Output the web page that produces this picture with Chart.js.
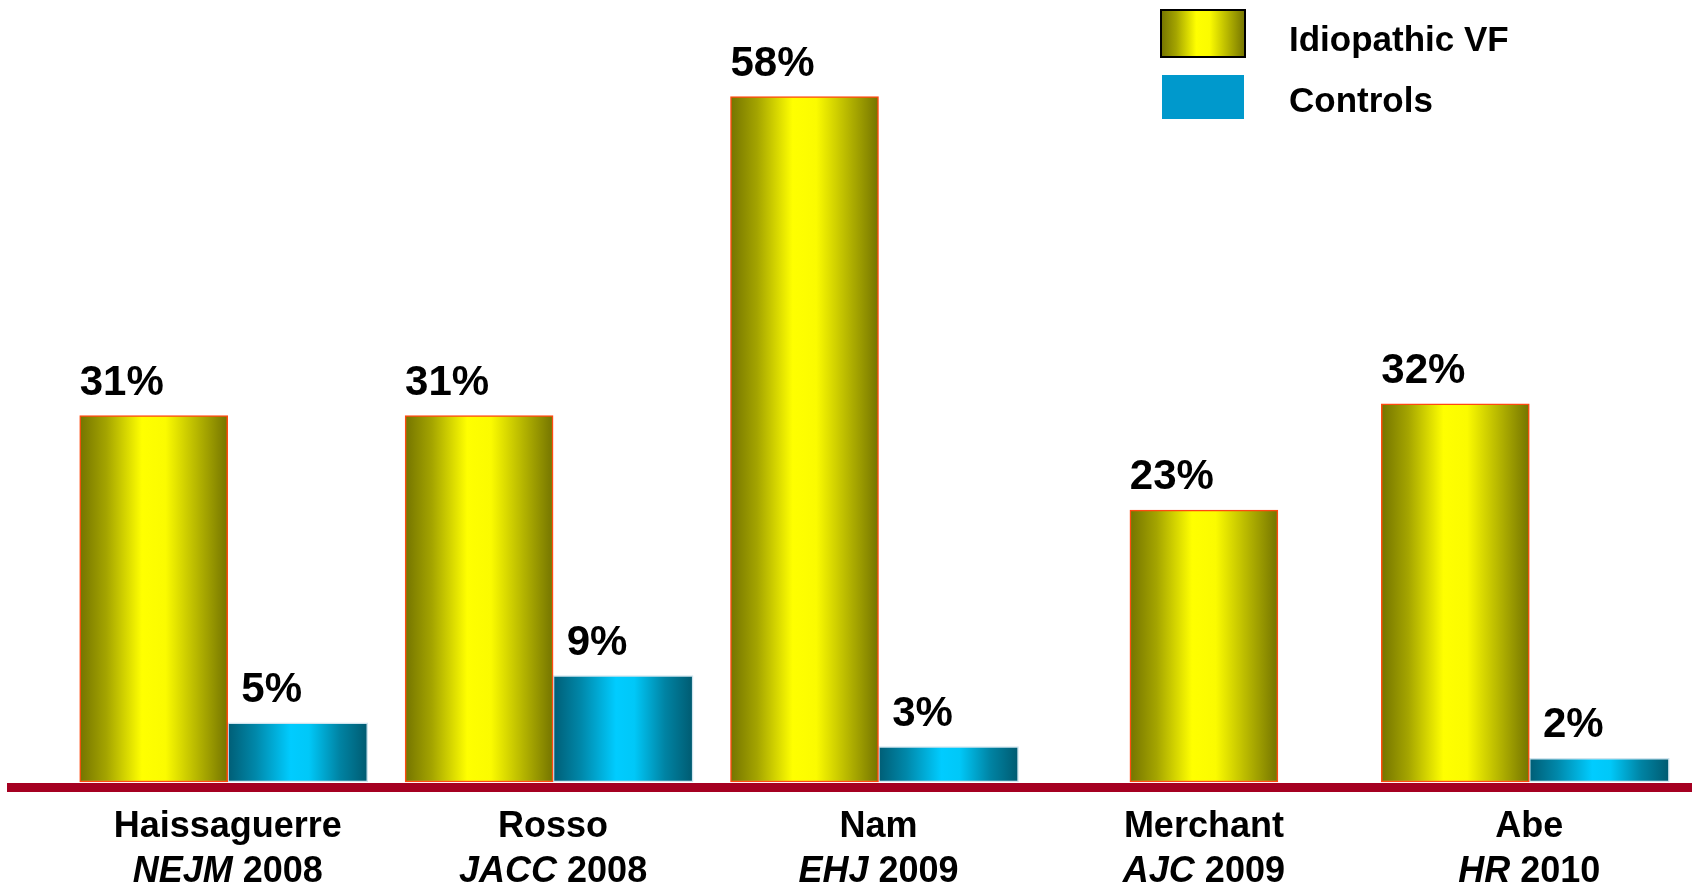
<!DOCTYPE html>
<html>
<head>
<meta charset="utf-8">
<script src="https://cdn.jsdelivr.net/npm/chart.js@4.4.1/dist/chart.umd.min.js"></script>
<style>
html,body{margin:0;padding:0;background:#ffffff;overflow:hidden}
#wrap{width:1692px;height:883px;position:relative}
canvas{display:block}
</style>
</head>
<body>
<div id="wrap"><canvas id="c" width="1692" height="883"></canvas></div>
<script>
// ---------- data ----------
const studies = ['Haissaguerre', 'Rosso', 'Nam', 'Merchant', 'Abe'];
const journals = ['NEJM', 'JACC', 'EHJ', 'AJC', 'HR'];
const years = ['2008', '2008', '2009', '2009', '2010'];
const idiopathicVF = [31, 31, 58, 23, 32];
const controls = [5, 9, 3, null, 2];
const seriesNames = ['Idiopathic VF', 'Controls'];

// ---------- styles ----------
const FONT = '"Liberation Sans", Arial, Helvetica, sans-serif';
const yellowStops = [[0, '#747400'], [0.18, '#a4a400'], [0.42, '#ffff00'], [0.58, '#fbfb00'], [0.8, '#b4b400'], [1, '#747400']];
const cyanStops = [[0, '#005d75'], [0.2, '#0088aa'], [0.45, '#00ccff'], [0.58, '#00c8f8'], [0.8, '#0083a3'], [1, '#005a70']];
const labelShift = [-32, -26];

function grad(c, x0, x1, stops) {
  const g = c.createLinearGradient(x0, 0, x1, 0);
  stops.forEach(s => g.addColorStop(s[0], s[1]));
  return g;
}

const gradientPlugin = {
  id: 'barGradients',
  beforeDatasetsDraw(chart) {
    const c = chart.ctx;
    chart.data.datasets.forEach((ds, di) => {
      const meta = chart.getDatasetMeta(di);
      meta.data.forEach(el => {
        if (!el || !el.options) return;
        const x = el.x, w = el.width;
        if (!isFinite(x) || !isFinite(w)) return;
        el.options.backgroundColor = grad(c, x - w / 2, x + w / 2, di === 0 ? yellowStops : cyanStops);
      });
    });
  }
};

const baselinePlugin = {
  id: 'baseline',
  afterDatasetsDraw(chart) {
    const c = chart.ctx;
    const y0 = chart.scales.y.getPixelForValue(0);
    c.save();
    c.fillStyle = '#a50021';
    c.fillRect(7, y0 + 1, chart.width - 7, 9);
    c.restore();
  }
};

const valueLabelPlugin = {
  id: 'valueLabels',
  afterDatasetsDraw(chart) {
    const c = chart.ctx;
    c.save();
    c.font = 'bold 42px ' + FONT;
    c.fillStyle = '#000000';
    c.textAlign = 'center';
    c.textBaseline = 'alphabetic';
    chart.data.datasets.forEach((ds, di) => {
      const meta = chart.getDatasetMeta(di);
      meta.data.forEach((el, i) => {
        const v = ds.data[i];
        if (v === null || v === undefined) return;
        c.fillText(v + '%', el.x + labelShift[di], el.y - 21);
      });
    });
    c.restore();
  }
};

const categoryLabelPlugin = {
  id: 'categoryLabels',
  afterDraw(chart) {
    const c = chart.ctx;
    const xs = chart.scales.x;
    const y0 = chart.scales.y.getPixelForValue(0);
    c.save();
    c.fillStyle = '#000000';
    c.textBaseline = 'alphabetic';
    studies.forEach((name, i) => {
      const cx = xs.getPixelForValue(i);
      c.font = 'bold 36px ' + FONT;
      c.textAlign = 'center';
      c.fillText(name, cx, y0 + 55);
      const italicFont = 'italic bold 36px ' + FONT;
      const boldFont = 'bold 36px ' + FONT;
      c.font = italicFont;
      const wJ = c.measureText(journals[i]).width;
      c.font = boldFont;
      const rest = ' ' + years[i];
      const wY = c.measureText(rest).width;
      const start = cx - (wJ + wY) / 2;
      c.textAlign = 'left';
      c.font = italicFont;
      c.fillText(journals[i], start, y0 + 100);
      c.font = boldFont;
      c.fillText(rest, start + wJ, y0 + 100);
    });
    c.restore();
  }
};

const legendPlugin = {
  id: 'customLegend',
  afterDraw(chart) {
    const c = chart.ctx;
    c.save();
    c.fillStyle = grad(c, 1161, 1245, yellowStops);
    c.fillRect(1161, 10, 84, 47);
    c.strokeStyle = '#000000';
    c.lineWidth = 2;
    c.strokeRect(1161, 10, 84, 47);
    c.fillStyle = '#0099cc';
    c.fillRect(1162, 75, 82, 44);
    c.fillStyle = '#000000';
    c.font = 'bold 35px ' + FONT;
    c.textAlign = 'left';
    c.textBaseline = 'alphabetic';
    c.fillText(seriesNames[0], 1289, 51);
    c.fillText(seriesNames[1], 1289, 112);
    c.restore();
  }
};

new Chart(document.getElementById('c'), {
  type: 'bar',
  data: {
    labels: studies,
    datasets: [
      {
        label: seriesNames[0],
        data: idiopathicVF,
        backgroundColor: () => '#e6e600',
        borderColor: '#ff4a10',
        borderWidth: 1.5,
        borderSkipped: false,
        barThickness: 148,
        skipNull: true,
        clip: false
      },
      {
        label: seriesNames[1],
        data: controls,
        backgroundColor: () => '#00aadd',
        borderColor: '#cfe4ee',
        borderWidth: 1.5,
        borderSkipped: false,
        barThickness: 140,
        skipNull: true,
        clip: false
      }
    ]
  },
  options: {
    responsive: false,
    maintainAspectRatio: false,
    animation: false,
    devicePixelRatio: 1,
    events: [],
    layout: { padding: { left: 65, right: -23, top: 2, bottom: 101 } },
    scales: {
      x: { display: false, offset: true },
      y: { display: false, min: 0, max: 66 }
    },
    plugins: {
      legend: { display: false },
      tooltip: { enabled: false }
    }
  },
  plugins: [gradientPlugin, baselinePlugin, valueLabelPlugin, categoryLabelPlugin, legendPlugin]
});
</script>
</body>
</html>
